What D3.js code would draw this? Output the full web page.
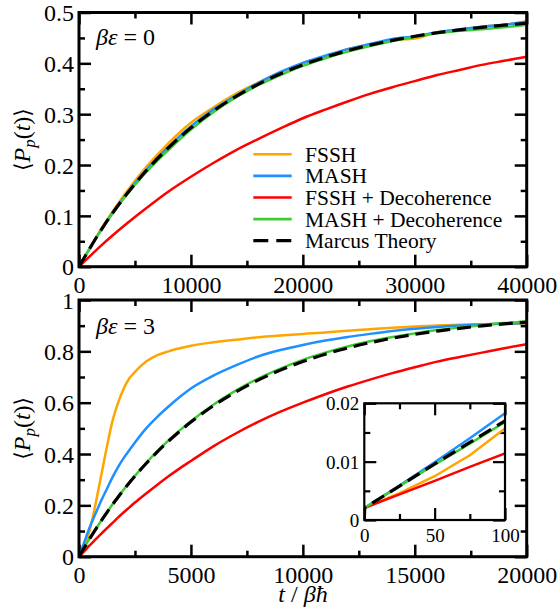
<!DOCTYPE html>
<html><head><meta charset="utf-8">
<script src="https://cdn.jsdelivr.net/npm/d3@7"></script>
</head>
<body style="margin:0;background:#fff">
<svg id="chart" width="559" height="610" font-family="Liberation Serif"></svg>
<script>
// ---------- DATA ----------
const seriesNames = ["FSSH", "MASH", "FSSH + Decoherence", "MASH + Decoherence", "Marcus Theory"];
const seriesColors = ["#ffa500", "#1e90ff", "#ff0000", "#3ccd32", "#000000"];

// Top panel: beta*eps = 0
const topTimes = [0,2000,4000,6000,8000,10000,12000,14000,16000,18000,20000,22000,24000,26000,28000,30000,32000,34000,36000,38000,40000];
const topFSSH   = [0,.075,.140,.196,.243,.283,.313,.340,.362,.382,.400,.414,.428,.437,.446,.449,.461,.466,.472,.476,.483];
const topMASH   = [0,.073,.136,.190,.236,.276,.309,.336,.361,.383,.401,.415,.428,.438,.448,.453,.461,.467,.472,.476,.482];
const topFSSHD  = [0,.042,.080,.115,.148,.177,.204,.229,.251,.272,.292,.309,.325,.340,.353,.365,.377,.387,.397,.405,.413];
const topMASHD  = [0,.073,.134,.186,.230,.270,.304,.333,.357,.377,.395,.410,.423,.434,.444,.452,.459,.464,.467,.471,.476];
const topMarcus = [0,.0730,.1354,.1887,.2342,.2731,.3062,.3346,.3587,.3794,.3970,.4120,.4249,.4359,.4452,.4532,.4601,.4659,.4709,.4751,.4788];

// Bottom panel: beta*eps = 3
const botTimes = [0,250,500,750,1000,1250,1500,1750,2000,2250,2500,3000,3500,4000,4500,5000,6000,7000,8000,9000,10000,11000,12000,13000,14000,15000,16000,17000,18000,19000,20000];
const botFSSH   = [0,.04,.11,.21,.32,.43,.53,.60,.655,.695,.72,.76,.785,.80,.812,.822,.835,.845,.855,.862,.868,.873,.880,.886,.892,.897,.901,.904,.906,.907,.908];
const botMASH   = [0,.06,.12,.17,.22,.265,.31,.35,.385,.415,.445,.50,.545,.585,.622,.655,.705,.745,.780,.805,.825,.842,.856,.868,.879,.888,.895,.901,.905,.908,.910];
const botFSSHD  = [0,.023,.046,.068,.09,.111,.132,.153,.173,.192,.211,.246,.280,.313,.344,.373,.430,.480,.525,.565,.600,.633,.663,.690,.715,.738,.760,.778,.795,.812,.828];
const botMASHD  = [0,.0375,.074,.108,.141,.173,.204,.233,.262,.289,.315,.365,.411,.453,.492,.528,.592,.647,.694,.733,.767,.795,.819,.839,.856,.870,.883,.893,.902,.910,.916];
const botMarcus = [0,.0373,.0733,.1077,.1409,.1727,.2033,.2326,.2609,.2880,.3141,.3631,.4085,.4503,.4889,.5246,.5879,.6418,.6878,.7269,.7603,.7888,.8130,.8336,.8512,.8662,.8790,.8898,.8992,.9071,.9137];

// Inset (bottom panel, short times)
const insTimes  = [0,0.3,25,50,75,100];
const insFSSH   = [0,.0021,.0046,.0075,.0111,.0157];
const insMASH   = [0,.0021,.0059,.0099,.0140,.0183];
const insFSSHD  = [0,.0021,.0044,.0067,.0091,.0114];
const insMASHD  = [0,.0021,.0058,.0095,.0131,.0168];
const insMarcus = [0,.0021,.0058,.0096,.0133,.0170];

// Ticks
const topXTicks = [0,10000,20000,30000,40000];
const topXMinor = [5000,15000,25000,35000];
const topYTicks = [0,0.1,0.2,0.3,0.4,0.5];
const topYMinor = [0.05,0.15,0.25,0.35,0.45];
const botXTicks = [0,5000,10000,15000,20000];
const botXMinor = [2500,7500,12500,17500];
const botYTicks = [0,0.2,0.4,0.6,0.8,1];
const botYMinor = [0.1,0.3,0.5,0.7,0.9];
const insXTicks = [0,50,100];
const insXMinor = [25,75];
const insYTicks = [0,0.01,0.02];
const insYMinor = [0.005,0.015];

// ---------- DRAW ----------
const FONT = "Liberation Serif";
const svg = d3.select("#chart");
const fmt = v => v === 0 ? "0" : String(+v.toFixed(3));

function panel(opts) {
  const {x0,x1,y0,y1,xDom,yDom,xT,xM,yT,yM,fs,major,minor,frameW,tickW,yPad,xBase,fill} = opts;
  const x = d3.scaleLinear().domain(xDom).range([x0,x1]);
  const y = d3.scaleLinear().domain(yDom).range([y1,y0]);
  const g = svg.append("g");
  if (fill) g.append("rect").attr("x",x0).attr("y",y0).attr("width",x1-x0).attr("height",y1-y0).attr("fill","#fff");
  const mk = (axisFn, scale, vals, size, tx, ty, labels) => {
    const a = axisFn(scale).tickValues(vals).tickSize(-size).tickPadding(0);
    a.tickFormat(labels ? fmt : "");
    const ag = g.append("g").attr("transform",`translate(${tx},${ty})`).call(a);
    ag.attr("font-family", FONT).attr("font-size", fs);
    ag.select(".domain").remove();
    ag.selectAll(".tick line").attr("stroke","#000").attr("stroke-width",tickW);
    ag.selectAll("text").attr("font-size",fs).attr("font-family",FONT).attr("fill","#000");
    return ag;
  };
  const bx = mk(d3.axisBottom, x, xT, major, 0, y1, true);
  bx.selectAll("text").attr("dy",null).attr("y",xBase);
  mk(d3.axisBottom, x, xM, minor, 0, y1, false);
  mk(d3.axisTop, x, xT, major, 0, y0, false);
  mk(d3.axisTop, x, xM, minor, 0, y0, false);
  const ly = mk(d3.axisLeft, y, yT, major, x0, 0, true);
  ly.selectAll("text").attr("x",-yPad).attr("dy","0.34em");
  mk(d3.axisLeft, y, yM, minor, x0, 0, false);
  mk(d3.axisRight, y, yT, major, x1, 0, false);
  mk(d3.axisRight, y, yM, minor, x1, 0, false);
  return {x,y,g,frame:()=>g.append("rect").attr("x",x0).attr("y",y0).attr("width",x1-x0).attr("height",y1-y0)
      .attr("fill","none").attr("stroke","#000").attr("stroke-width",frameW)};
}

let clipN = 0;
function drawLines(p, times, sets, lw, dashW, curve) {
  const clipId = "clip" + (clipN++);
  const [rx0,rx1] = p.x.range(), [ry1,ry0] = p.y.range();
  svg.append("clipPath").attr("id",clipId).append("rect").attr("x",rx0).attr("y",ry0).attr("width",rx1-rx0).attr("height",ry1-ry0);
  const lg = p.g.append("g").attr("clip-path",`url(#${clipId})`);
  [0,1,2,3,4].forEach(i => {
    const line = d3.line().x((d,j)=>p.x(times[j])).y(d=>p.y(d)).curve(curve);
    const path = lg.append("path").attr("d",line(sets[i])).attr("fill","none")
      .attr("stroke",seriesColors[i]).attr("stroke-width", i===4?dashW:lw)
      .attr("stroke-linejoin","round");
    if (i===4) path.attr("stroke-dasharray","14,7");
  });
}

// Top panel
const pTop = panel({x0:79,x1:526.7,y0:12.5,y1:266.7,xDom:[0,40000],yDom:[0,0.5],
  xT:topXTicks,xM:topXMinor,yT:topYTicks,yM:topYMinor,fs:24,major:12,minor:6,frameW:3,tickW:2.5,yPad:5,xBase:26.5});
drawLines(pTop, topTimes, [topFSSH,topMASH,topFSSHD,topMASHD,topMarcus], 2.5, 3.2, d3.curveMonotoneX);
pTop.frame();

// Bottom panel
const pBot = panel({x0:79,x1:526.7,y0:300,y1:556.7,xDom:[0,20000],yDom:[0,1],
  xT:botXTicks,xM:botXMinor,yT:botYTicks,yM:botYMinor,fs:24,major:12,minor:6,frameW:3,tickW:2.5,yPad:5,xBase:26.5});
drawLines(pBot, botTimes, [botFSSH,botMASH,botFSSHD,botMASHD,botMarcus], 2.5, 3.2, d3.curveMonotoneX);
pBot.frame();

// Inset
const pIns = panel({x0:364.3,x1:505,y0:403.3,y1:520,xDom:[0,100],yDom:[0,0.02],
  xT:insXTicks,xM:insXMinor,yT:insYTicks,yM:insYMinor,fs:19,major:12,minor:6,frameW:2.2,tickW:2.2,yPad:5,xBase:21.5,fill:true});
drawLines(pIns, insTimes, [insFSSH,insMASH,insFSSHD,insMASHD,insMarcus], 2.5, 3.2, d3.curveLinear);
pIns.frame();

// Legend
const leg = svg.append("g");
seriesNames.forEach((n,i) => {
  const yy = 154.3 + i*21.6;
  const l = leg.append("line").attr("x1",253.3).attr("x2",291.7).attr("y1",yy).attr("y2",yy)
    .attr("stroke",seriesColors[i]).attr("stroke-width", i===4?3.2:2.6);
  if (i===4) l.attr("stroke-dasharray","15,8");
  leg.append("text").attr("x",305).attr("y",yy+7.5).attr("font-size",21.5).attr("font-family",FONT).text(n);
});

// Panel annotations
function annot(yb, val) {
  const t = svg.append("text").attr("x",96).attr("y",yb).attr("font-size",24).attr("font-family",FONT);
  t.append("tspan").attr("font-style","italic").text("βε");
  t.append("tspan").text(" = " + val);
}
annot(44.5, "0");
annot(333.5, "3");

// Y labels (angle brackets given an explicit font that has the glyph)
function ylab(cy) {
  const t = svg.append("text").attr("transform",`translate(30,${cy}) rotate(-90)`).attr("text-anchor","middle")
    .attr("font-size",24).attr("font-family",FONT);
  t.append("tspan").attr("font-family","DejaVu Sans").attr("font-size",22).text("\u27E8");
  t.append("tspan").attr("font-style","italic").text("P");
  t.append("tspan").attr("font-style","italic").attr("font-size",17).attr("dy",5).text("p");
  t.append("tspan").attr("dy",-5).text("(");
  t.append("tspan").attr("font-style","italic").text("t");
  t.append("tspan").text(")");
  t.append("tspan").attr("font-family","DejaVu Sans").attr("font-size",22).text("\u27E9");
}
ylab((12.5+266.7)/2);
ylab((300+556.7)/2);

// X label
const xl = svg.append("text").attr("x",303).attr("y",602).attr("text-anchor","middle").attr("font-size",24).attr("font-family",FONT);
xl.append("tspan").attr("font-style","italic").text("t");
xl.append("tspan").text(" / ");
xl.append("tspan").attr("font-style","italic").text("βħ");
</script>
</body></html>
